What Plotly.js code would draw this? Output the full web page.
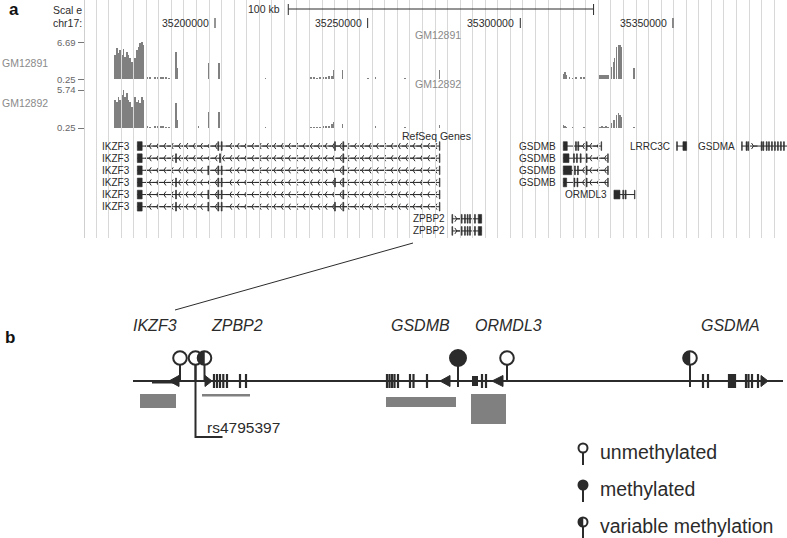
<!DOCTYPE html>
<html><head><meta charset="utf-8">
<script src="https://cdn.plot.ly/plotly-3.0.1.min.js"></script>
<style>html,body{margin:0;padding:0;background:#fff}#chart{width:787px;height:538px}</style>
</head><body><div id="chart"></div><script>
// ===================== PANEL a DATA =====================
const coordTicks = [35200000, 35250000, 35300000, 35350000];
const coordTickLabels = ['35200000', '35250000', '35300000', '35350000'];
const scaleBarStart = 35224000, scaleBarEnd = 35324000, scaleBarLabel = '100 kb';

const track1Name = 'GM12891', track1Min = 0.25, track1Max = 6.69;
const track2Name = 'GM12892', track2Min = 0.25, track2Max = 5.74;

// dense peak over IKZF3 3' end
const peakPos = [35167250, 35167800, 35168350, 35168900, 35169450, 35170000, 35170550, 35171100, 35171650,
  35172200, 35172750, 35173300, 35173850, 35174400, 35174950, 35175500, 35176050, 35176600];
const track1PeakVal = [4.43, 5.64, 4.77, 5.30, 4.43, 5.47, 4.08, 4.95, 4.43, 3.90, 3.21, 2.34, 3.90, 5.30, 5.82, 6.51, 6.62, 6.17];
const track2PeakVal = [4.30, 4.01, 4.73, 4.30, 5.02, 5.70, 4.73, 5.31, 4.30, 4.01, 3.28, 4.30, 4.73, 4.01, 4.30, 3.86, 4.73, 4.30];

// sparse signal elsewhere
const sparsePos = [35177730, 35178710, 35180350, 35181330, 35182315, 35182970, 35183950, 35184935,
  35187230, 35187555, 35194540, 35197810, 35201310, 35202190, 35216600,
  35231440, 35232420, 35233405, 35234390, 35235370, 35236350, 35237335, 35238320, 35238750, 35241690,
  35250110, 35252630, 35262225, 35273460,
  35314130, 35314625, 35315115, 35316260, 35317245, 35318230, 35319865, 35320850, 35321500,
  35326090, 35326745, 35327400, 35328055, 35328710,
  35329920, 35330445, 35331000, 35331555, 35332080, 35332640, 35333195, 35333720, 35337225];
const track1SparseVal = [0.55, 0.55, 0.6, 0.6, 0.65, 0.6, 0.55, 0.5,
  4.95, 2.2, 0.3, 3.03, 3.03, 2.34, 0.5,
  0.55, 0.55, 0.5, 0.55, 0.55, 0.6, 0.7, 0.85, 1.82, 1.82,
  0.45, 0.6, 0.5, 1.82,
  1.2, 1.47, 1.0, 0.6, 0.5, 0.6, 0.6, 0.55, 0.6,
  0.95, 0.9, 1.0, 0.95, 1.0,
  2.34, 3.21, 3.9, 5.82, 6.17, 6.17, 5.82, 5.3, 2.16];
const track2SparseVal = [0.5, 0.45, 0.5, 0.5, 0.55, 0.5, 0.45, 0.45,
  3.86, 1.4, 0.5, 2.56, 2.56, 2.4, 0.45,
  0.4, 0.45, 0.4, 0.45, 0.5, 0.55, 0.6, 0.9, 1.12, 0.83,
  0.3, 0.5, 0.45, 0.68,
  0.7, 0.6, 0.45, 0.3, 0.4, 0.3, 0.3, 0.4, 0.3,
  0.45, 0.5, 0.45, 0.5, 0.45,
  0.97, 1.41, 1.41, 2.13, 2.42, 2.13, 1.84, 0.6, 0.45];

// RefSeq transcripts
const txName = ['IKZF3', 'IKZF3', 'IKZF3', 'IKZF3', 'IKZF3', 'IKZF3', 'ZPBP2', 'ZPBP2',
  'GSDMB', 'GSDMB', 'GSDMB', 'GSDMB', 'ORMDL3', 'LRRC3C', 'GSDMA'];
const txRow = [0, 1, 2, 3, 4, 5, 6, 7, 0, 1, 2, 3, 4, 0, 0];
const txStrand = ['-', '-', '-', '-', '-', '-', '+', '+', '-', '-', '-', '-', '-', '', '+'];
const txStart = [35174560, 35174560, 35174560, 35174560, 35174560, 35174560, 35277715, 35277715,
  35314070, 35314070, 35314070, 35314070, 35330673, 35351205, 35372490];
const txEnd = [35273690, 35273690, 35273690, 35273690, 35273690, 35273690, 35287345, 35287345,
  35326645, 35328810, 35328810, 35328810, 35337550, 35354480, 35395000];
const txExons = [
  [[35174560, 35176140], [35200930, 35201230], [35202040, 35202340], [35239150, 35239450], [35241870, 35242170], [35273490, 35273690]],
  [[35174560, 35176140], [35187080, 35187380], [35201490, 35201790], [35241870, 35242170], [35273490, 35273690]],
  [[35174560, 35176140], [35197660, 35197960], [35200930, 35201230], [35202040, 35202340], [35241870, 35242170], [35273490, 35273690]],
  [[35174560, 35176140], [35187080, 35187380], [35200930, 35201230], [35202040, 35202340], [35239150, 35239450], [35241870, 35242170], [35273490, 35273690]],
  [[35174560, 35176140], [35187080, 35187380], [35197660, 35197960], [35200930, 35201230], [35202040, 35202340], [35241870, 35242170], [35273490, 35273690]],
  [[35174560, 35176140], [35187080, 35187380], [35197660, 35197960], [35200930, 35201230], [35202040, 35202340], [35239150, 35239450], [35241870, 35242170], [35273490, 35273690]],
  [[35277600, 35277850], [35280650, 35280950], [35281720, 35282020], [35282600, 35282900], [35283370, 35283670], [35285000, 35285300], [35286230, 35287345]],
  [[35277600, 35277850], [35280650, 35280950], [35281720, 35282020], [35282600, 35282900], [35283370, 35283670], [35285000, 35285300], [35286230, 35287345]],
  [[35314070, 35315380], [35318080, 35318380], [35318830, 35319130], [35321580, 35321880], [35326450, 35326645]],
  [[35314070, 35315940], [35317420, 35317720], [35318400, 35318700], [35319620, 35319920], [35321580, 35321880], [35328610, 35328810]],
  [[35314070, 35316820], [35317750, 35318050], [35318730, 35319030], [35321580, 35321880], [35328610, 35328810]],
  [[35314070, 35315180], [35317570, 35317870], [35318560, 35318860], [35321580, 35321880], [35328610, 35328810]],
  [[35330673, 35332640], [35333570, 35333870], [35334355, 35334655], [35337400, 35337550]],
  [[35351205, 35351450], [35353270, 35354480]],
  [[35372490, 35372700], [35373950, 35374250], [35374500, 35374800], [35378900, 35379200], [35379450, 35379750],
   [35380550, 35380850], [35381300, 35381600], [35382270, 35382570], [35383250, 35383550], [35384230, 35384530],
   [35385200, 35385500], [35386200, 35386500]]
];

// ===================== PANEL b DATA (schematic) =====================
const bGeneNames = ['IKZF3', 'ZPBP2', 'GSDMB', 'ORMDL3', 'GSDMA'];
const bGeneLabelPos = [155, 237, 420, 508, 730];
const bLineStart = 133, bLineEnd = 783;
const bExonPos = [214, 217, 220, 223.3, 227, 240, 246,
  387, 389.5, 392, 394.5, 398, 410, 413.5, 427,
  482, 486,
  703, 708, 729, 731, 733, 735, 746, 748.5, 752, 758];
const bArrowTip = [169, 212, 440, 492, 768];
const bArrowBase = [179, 205, 450, 503, 761];
const bBlockStart = [152, 472], bBlockEnd = [176, 478];
const lolliPos = [180, 195.5, 204.5, 458, 507, 690];
const lolliState = ['unmethylated', 'unmethylated', 'variable', 'methylated', 'unmethylated', 'variable'];
const lolliBelow = [0, 0, 0, -6, 0, -6];
const snpName = 'rs4795397', snpPos = 195.5;
const regionStart = [140, 202, 386, 471];
const regionEnd = [176, 250, 456, 506];
const regionTop = [-13, -13, -16, -13];
const regionBottom = [-27, -15.5, -26, -43];
const legendLabels = ['unmethylated', 'methylated', 'variable methylation'];
const legendStates = ['unmethylated', 'methylated', 'variable'];

// ===================== BUILD =====================
const W = 787, H = 538;
const px = v => v / W, py = v => 1 - v / H;
const INK = '#2b2b2b', GRAY = '#808080';
const FA = 'Liberation Sans, Arial, sans-serif';
const FB = 'Liberation Sans, Arial, sans-serif';
const XMIN = 35157419, XMAX = 35387356;

const traces = [], shapes = [], ann = [];

function bar(x, y, yaxis, w) {
  return {type: 'bar', x: x, y: y, width: w, xaxis: 'x', yaxis: yaxis,
    marker: {color: GRAY, line: {width: 0}}, hoverinfo: 'skip', showlegend: false};
}
traces.push(bar(peakPos, track1PeakVal, 'y', 560));
traces.push(bar(sparsePos, track1SparseVal, 'y', 360));
traces.push(bar(peakPos, track2PeakVal, 'y2', 560));
traces.push(bar(sparsePos, track2SparseVal, 'y2', 360));

const A = o => Object.assign({showarrow: false, xanchor: 'center', yanchor: 'middle'}, o);

const chevMinus = {x: [], y: []}, chevPlus = {x: [], y: []};
for (let i = 0; i < txName.length; i++) {
  const row = txRow[i];
  traces.push({type: 'scatter', mode: 'lines', x: [txStart[i], txEnd[i]], y: [row, row], xaxis: 'x', yaxis: 'y3',
    line: {color: INK, width: 1}, hoverinfo: 'skip', showlegend: false});
  txExons[i].forEach(([a, b]) => shapes.push({type: 'rect', xref: 'x', yref: 'y3', x0: a, x1: b,
    y0: row - 0.36, y1: row + 0.36, fillcolor: INK, line: {color: INK, width: 0.6}}));
  if (txStrand[i]) {
    const t = txStrand[i] === '-' ? chevMinus : chevPlus;
    for (let p = txStart[i] + 1500; p < txEnd[i] - 700; p += 2400) {
      if (txExons[i].some(([a, b]) => p > a - 600 && p < b + 600)) continue;
      t.x.push(p); t.y.push(row);
    }
  }
  ann.push(A({xref: 'x', yref: 'y3', x: txStart[i], y: row, text: txName[i], xanchor: 'right',
    xshift: -6, borderpad: 0, font: {family: FA, size: 10, color: INK}}));
}
[[chevMinus, 'y-left'], [chevPlus, 'y-right']].forEach(([c, sym]) => traces.push({type: 'scatter', mode: 'markers',
  x: c.x, y: c.y, xaxis: 'x', yaxis: 'y3', hoverinfo: 'skip', showlegend: false,
  marker: {symbol: sym, size: 5, color: INK, line: {color: INK, width: 1}}}));

// header of panel a
const txt = (x, y, t, o = {}) => A(Object.assign({xref: 'paper', yref: 'paper', x: px(x), y: py(y), text: t,
  font: {family: FA, size: 10.5, color: INK}}, o));
ann.push(txt(14, 10, '<b>a</b>', {font: {family: FB, size: 17, color: '#111'}}));
ann.push(txt(83, 10, 'Scal e', {xanchor: 'right', borderpad: 0}));
ann.push(txt(83, 23, 'chr17:', {xanchor: 'right', borderpad: 0}));
coordTicks.forEach((g, i) => {
  ann.push(A({xref: 'x', yref: 'paper', x: g, y: py(23), text: coordTickLabels[i], xanchor: 'right', xshift: -4,
    font: {family: FA, size: 10.5, color: INK}}));
  shapes.push({type: 'line', xref: 'x', yref: 'paper', x0: g, x1: g, y0: py(18), y1: py(28), line: {color: INK, width: 1}});
});
ann.push(A({xref: 'x', yref: 'paper', x: scaleBarStart, y: py(9), text: scaleBarLabel, xanchor: 'right', xshift: -6,
  font: {family: FA, size: 10.5, color: INK}}));
shapes.push({type: 'line', xref: 'x', yref: 'paper', x0: scaleBarStart, x1: scaleBarEnd, y0: py(9), y1: py(9), line: {color: INK, width: 1}});
[scaleBarStart, scaleBarEnd].forEach(g => shapes.push({type: 'line', xref: 'x', yref: 'paper', x0: g, x1: g,
  y0: py(4), y1: py(15), line: {color: INK, width: 1}}));
// track scale labels (min / max of each signal axis)
[['y', track1Min, track1Max], ['y2', track2Min, track2Max]].forEach(([ax, lo, hi]) => [lo, hi].forEach(v =>
  ann.push(A({xref: 'paper', yref: ax, x: px(77), y: v, text: v.toFixed(2), xanchor: 'right', borderpad: 0,
    font: {family: FA, size: 9.5, color: '#666'}}))));
// track titles
const TG = '#8a8a8a';
ann.push(txt(0, 63, track1Name, {xanchor: 'left', font: {family: FA, size: 10.5, color: TG}}));
ann.push(txt(0, 103, track2Name, {xanchor: 'left', font: {family: FA, size: 10.5, color: TG}}));
ann.push(txt(438, 35, track1Name, {font: {family: FA, size: 10.5, color: TG}}));
ann.push(txt(438, 84, track2Name, {font: {family: FA, size: 10.5, color: TG}}));
ann.push(txt(436, 136, 'RefSeq Genes', {borderpad: 0}));
// zoom connector
shapes.push({type: 'line', xref: 'paper', yref: 'paper', x0: px(413), y0: py(243), x1: px(175), y1: py(310), line: {color: INK, width: 1}});

// ===================== PANEL b =====================
ann.push(txt(10, 337, '<b>b</b>', {font: {family: FB, size: 17, color: '#111'}}));
const B = (o) => Object.assign({xref: 'x2', yref: 'y6'}, o);
shapes.push(B({type: 'line', x0: bLineStart, x1: bLineEnd, y0: 0, y1: 0, line: {color: INK, width: 2}}));
bBlockStart.forEach((s, i) => shapes.push(B({type: 'rect', x0: s, x1: bBlockEnd[i], y0: i === 0 ? -2.5 : -5, y1: i === 0 ? 1 : 5,
  fillcolor: INK, line: {width: 0}})));
bExonPos.forEach(x => shapes.push(B({type: 'line', x0: x, x1: x, y0: -7, y1: 7, line: {color: INK, width: 2.2}})));
bArrowTip.forEach((t, i) => shapes.push(B({type: 'path', path: `M${t},0 L${bArrowBase[i]},5.5 L${bArrowBase[i]},-5.5 Z`,
  fillcolor: INK, line: {color: INK, width: 1}})));
regionStart.forEach((s, i) => shapes.push(B({type: 'rect', x0: s, x1: regionEnd[i], y0: regionBottom[i], y1: regionTop[i],
  fillcolor: GRAY, line: {width: 0}})));
// SNP pointer
shapes.push(B({type: 'path', path: `M${snpPos},16 L${snpPos},-56 L${snpPos + 27},-56`, line: {color: INK, width: 2}}));
ann.push(A({xref: 'x2', yref: 'y6', x: snpPos + 9, y: -46, text: snpName, xanchor: 'left',
  font: {family: FB, size: 15.5, color: INK}}));

function lollipop(cx, cy, r, state, bottom, stemTop, sw) {
  shapes.push(B({type: 'line', x0: cx, x1: cx, y0: bottom, y1: stemTop, line: {color: INK, width: sw}}));
  shapes.push(B({type: 'circle', x0: cx - r, x1: cx + r, y0: cy - r, y1: cy + r,
    fillcolor: state === 'methylated' ? INK : '#fff', line: {color: INK, width: sw}}));
  if (state === 'variable') {
    let p = '';
    for (let a = 90; a <= 270; a += 10) {
      const t = a * Math.PI / 180;
      p += (p ? ' L' : 'M') + (cx + r * Math.cos(t)).toFixed(2) + ',' + (cy + r * Math.sin(t)).toFixed(2);
    }
    shapes.push(B({type: 'path', path: p + ' Z', fillcolor: INK, line: {color: INK, width: 0.5}}));
  }
}
lolliPos.forEach((x, i) => {
  const r = lolliState[i] === 'methylated' ? 8 : 6.8;
  lollipop(x, 23, r, lolliState[i], lolliBelow[i], 23 - r, 2);
});
bGeneNames.forEach((g, i) => ann.push(A({xref: 'x2', yref: 'y6', x: bGeneLabelPos[i], y: 56, text: '<i>' + g + '</i>',
  font: {family: FB, size: 16, color: INK}})));
// legend
legendLabels.forEach((l, i) => {
  const cy = -67 - 37 * i;
  lollipop(583, cy, 4.5, legendStates[i], cy - 17, cy - 4.5, 2);
  ann.push(A({xref: 'x2', yref: 'y6', x: 598, y: cy - 4, text: l, xanchor: 'left',
    font: {family: FB, size: 19.5, color: INK}}));
});

const hidden = {visible: false, fixedrange: true};
const tickOnly = {ticks: 'outside', ticklen: 6, tickcolor: '#777', tickwidth: 1, showticklabels: false,
  showgrid: false, zeroline: false, showline: false, fixedrange: true, anchor: 'x'};
const layout = {
  width: W, height: H, margin: {l: 0, r: 0, t: 0, b: 0}, paper_bgcolor: '#fff', plot_bgcolor: 'rgba(0,0,0,0)',
  barmode: 'overlay', bargap: 0, showlegend: false,
  xaxis: {domain: [px(85), 1], range: [XMIN, XMAX], anchor: 'y5', showgrid: true, gridcolor: '#d8d8d8', gridwidth: 1,
    tick0: 35313217, dtick: 4113, showticklabels: false, ticks: '', zeroline: false, showline: false, fixedrange: true},
  yaxis: Object.assign({domain: [py(79), py(42)], range: [track1Min, track1Max], tickvals: [track1Min, track1Max]}, tickOnly),
  yaxis2: Object.assign({domain: [py(128), py(90)], range: [track2Min, track2Max], tickvals: [track2Min, track2Max]}, tickOnly),
  yaxis3: Object.assign({domain: [py(237), py(140)], range: [7.5, -0.5], anchor: 'x'}, hidden),
  yaxis5: {domain: [py(238), 1], range: [0, 1], anchor: 'x', showgrid: false, zeroline: false, showticklabels: false,
    ticks: '', showline: true, linecolor: '#cfcfcf', linewidth: 1, fixedrange: true},
  xaxis2: Object.assign({domain: [0, 1], range: [0, W], anchor: 'y6'}, hidden),
  yaxis6: Object.assign({domain: [0, py(300)], range: [-157, 81], anchor: 'x2'}, hidden),
  shapes: shapes, annotations: ann
};
traces.push({type: 'scatter', x: [XMIN], y: [0.5], xaxis: 'x', yaxis: 'y5', mode: 'markers', marker: {opacity: 0}, hoverinfo: 'skip'});
traces.push({type: 'scatter', x: [0], y: [0], xaxis: 'x2', yaxis: 'y6', mode: 'markers', marker: {opacity: 0}, hoverinfo: 'skip'});
Plotly.newPlot('chart', traces, layout, {staticPlot: true, displayModeBar: false});
</script></body></html>
